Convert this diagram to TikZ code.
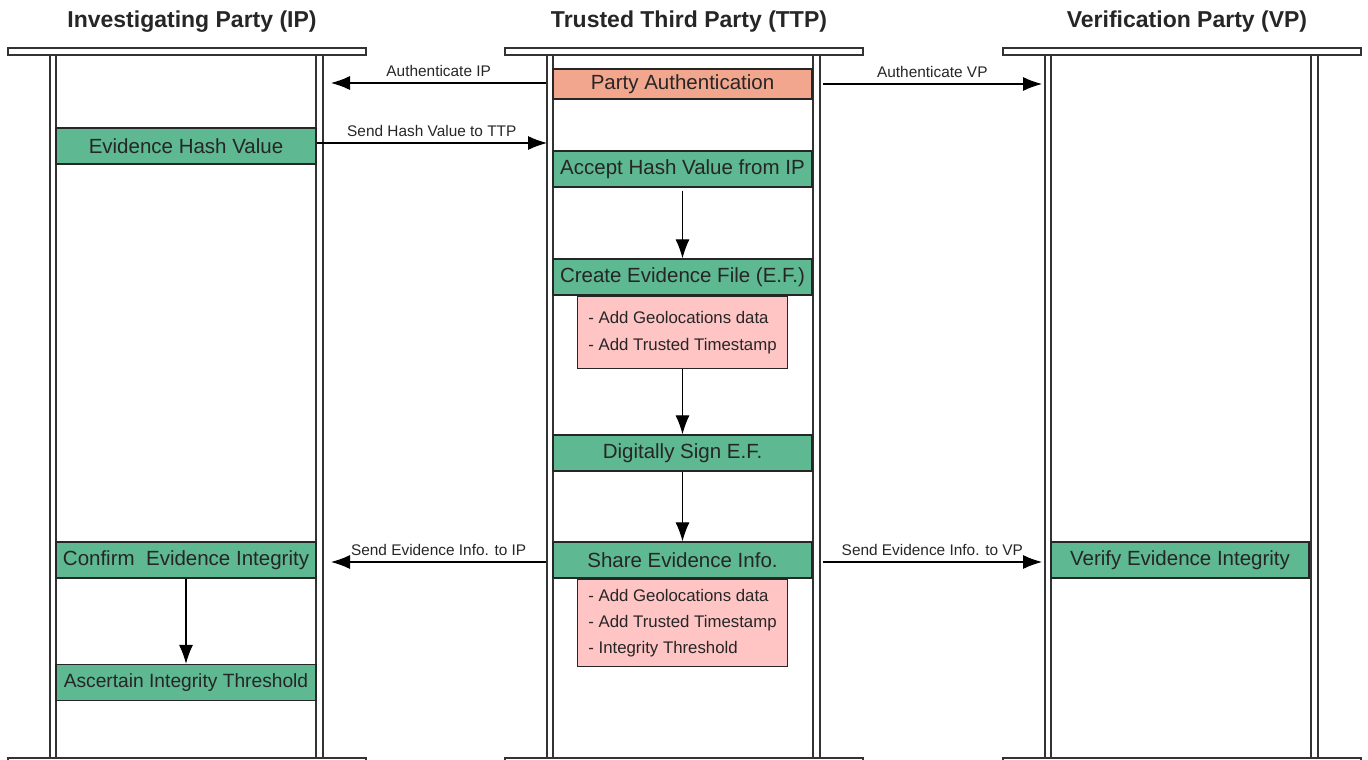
\documentclass[tikz,border=0pt]{standalone}
\usepackage{fontspec}
\setmainfont{Liberation Sans}
\usepackage{tikz}
\usetikzlibrary{positioning, calc, arrows.meta}

\definecolor{evgreen}{RGB}{94,184,145}
\definecolor{authred}{RGB}{243,166,142}
\definecolor{notepink}{RGB}{255,196,196}

\tikzset{
  lane/.style={draw=black!80, line width=1.3pt, fill=white},
  stepbox/.style={draw=black!85, line width=1.3pt, fill=evgreen, minimum height=36pt,
    inner sep=0pt, text=black!85, font=\fontsize{20.5}{24}\selectfont},
  notebox/.style={draw=black!85, line width=1.3pt, fill=notepink, minimum width=210pt,
    inner sep=0pt, align=left, anchor=north, text=black!85},
  msg/.style={line width=1.1pt, -{Latex[length=19pt,width=14pt]}},
  msglbl/.style={font=\fontsize{15.4}{18}\selectfont, above=2pt, text=black!85}
}

\begin{document}
\begin{tikzpicture}[x=1pt,y=-1pt]
  \useasboundingbox (0,0) rectangle (1368,760);
  \clip (0,0) rectangle (1368,760);
  % the three parties
  \foreach \x/\n/\t in {8/ipT/Investigating Party (IP), 505/ttpT/Trusted Third Party (TTP), 1003/vpT/Verification Party (VP)}{
    \draw[lane] (\x+42,55) rectangle (\x+48,758);
    \draw[lane] (\x+308,55) rectangle (\x+315,758);
    \draw[lane] (\x,48) rectangle (\x+358,55);
    \draw[lane] (\x,758) rectangle (\x+358,766);
    \node[font=\bfseries\fontsize{23}{27}\selectfont, text=black!85] (\n) at (\x+184,22) {\t};
  }

  % IP
  \node[stepbox, minimum width=260pt] (ehv) at (186,146) {Evidence Hash Value};
  \node[stepbox, minimum width=260pt] (cei) at (186,560) {Confirm~ Evidence Integrity};
  \node[stepbox, minimum width=260pt, font=\fontsize{19.2}{23}\selectfont] (ait) at (186,682.5) {Ascertain Integrity Threshold};

  % TTP
  \node[stepbox, minimum width=259pt, minimum height=30pt, fill=authred] (pa) at (682.5,84) {Party Authentication};
  \node[stepbox, minimum width=259pt] (acc) at (682.5,169) {Accept Hash Value from IP};
  \node[stepbox, minimum width=259pt] (cef) at (682.5,277) {Create Evidence File (E.F.)};
  \node[notebox, minimum height=72pt, font=\fontsize{16.8}{27}\selectfont] (n1) at (cef.south)
    {- Add Geolocations data\\- Add Trusted Timestamp};
  \node[stepbox, minimum width=259pt] (dse) at (682.5,453) {Digitally Sign E.F.};
  \node[stepbox, minimum width=259pt] (sei) at (682.5,560) {Share Evidence Info.};
  \node[notebox, minimum height=87pt, font=\fontsize{16.8}{26}\selectfont] (n2) at (sei.south)
    {- Add Geolocations data\\- Add Trusted Timestamp\\- Integrity Threshold};

  % VP
  \node[stepbox, minimum width=258pt] (vei) at (1180,560) {Verify Evidence Integrity};

  % messages
  \coordinate (ipIn1) at (331,83);
  \coordinate (vpIn1) at (1042,84);
  \coordinate (ttpIn1) at (547,143);
  \coordinate (ipIn2) at (331,562);
  \coordinate (vpIn2) at (1042,562);
  \draw[msg] ([xshift=-6pt,yshift=1pt]pa.west) -- node[msglbl]{Authenticate IP} (ipIn1);
  \draw[msg] ([xshift=10pt]pa.east) -- node[msglbl]{Authenticate VP} (vpIn1);
  \draw[msg] ([yshift=3pt]ehv.east) -- node[msglbl]{Send Hash Value to TTP} (ttpIn1);
  \draw[msg] ([xshift=-6pt,yshift=-2pt]sei.west) -- node[msglbl]{Send Evidence Info. to IP} (ipIn2);
  \draw[msg] ([xshift=10pt,yshift=-2pt]sei.east) -- node[msglbl]{Send Evidence Info. to VP} (vpIn2);

  % flow inside parties
  \draw[msg] ([yshift=-3pt]acc.south) -- (cef.north);
  \draw[msg] (n1.south) -- (dse.north);
  \draw[msg] (dse.south) -- (sei.north);
  \draw[msg] (cei.south) -- (ait.north);
\end{tikzpicture}
\end{document}
